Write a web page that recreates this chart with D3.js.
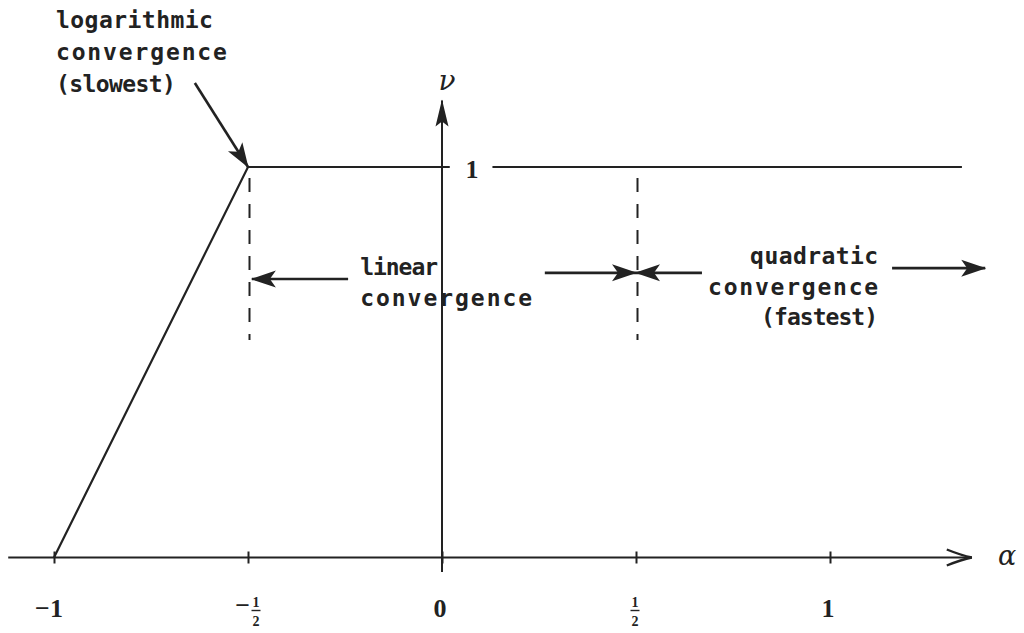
<!DOCTYPE html>
<html>
<head>
<meta charset="utf-8">
<script src="https://cdn.jsdelivr.net/npm/d3@7"></script>
<style>
  html, body { margin: 0; padding: 0; background: #fff; }
  svg { display: block; }
  .note { font-family: "DejaVu Sans Mono", monospace; font-weight: bold; font-size: 23px; fill: #222; }
  .num { font-family: "Liberation Serif", "DejaVu Serif", serif; font-weight: bold; fill: #222; }
</style>
</head>
<body>
<svg id="chart" width="1024" height="633"></svg>
<script>
// ---- data ----
const alphaTicks = [-1, -0.5, 0, 0.5, 1];
const tickLabels = ["−1", "−1/2", "0", "1/2", "1"];
const curveAlpha = [-1, -0.5, 1.34];
const curveNu = [0, 1, 1];
const dashedAlpha = [-0.5, 0.5];
const dashedNu = [0.557, 0.972];
const xAxisExtent = [-1.118, 1.368];
const yAxisExtent = [-0.037, 1.17];
const nuTickLabel = "1";
const axisLabels = ["α", "ν"];
const noteLog = ["logarithmic", "convergence", "(slowest)"];
const noteLinear = ["linear", "convergence"];
const noteQuad = ["quadratic", "convergence", "(fastest)"];
// annotation arrows: [fromAlpha, fromNu, toAlpha, toNu]
const arrows = [
  [-0.637, 1.215, -0.5, 1.0],
  [-0.242, 0.713, -0.49, 0.713],
  [0.265, 0.729, 0.5, 0.729],
  [0.67, 0.729, 0.5, 0.729],
  [1.16, 0.741, 1.40, 0.741]
];

// ---- scales ----
const x = d3.scaleLinear().domain([-1, 1]).range([54, 830]);
const y = d3.scaleLinear().domain([0, 1]).range([557.5, 167]);

const svg = d3.select("#chart");
const ink = "#222";

const defs = svg.append("defs");
defs.append("marker").attr("id", "head")
  .attr("viewBox", "-26 -10 28 20").attr("refX", 0).attr("refY", 0)
  .attr("markerWidth", 28).attr("markerHeight", 20)
  .attr("markerUnits", "userSpaceOnUse").attr("orient", "auto")
  .append("path").attr("d", "M1,0 L-24,-8.5 L-18,0 L-24,8.5 Z").attr("fill", ink);
defs.append("marker").attr("id", "yhead")
  .attr("viewBox", "-28 -8 30 16").attr("refX", 0).attr("refY", 0)
  .attr("markerWidth", 30).attr("markerHeight", 16)
  .attr("markerUnits", "userSpaceOnUse").attr("orient", "auto")
  .append("path").attr("d", "M1,0 L-26,-6.5 L-21,0 L-26,6.5 Z").attr("fill", ink);
defs.append("marker").attr("id", "open")
  .attr("viewBox", "-28 -10 30 20").attr("refX", 0).attr("refY", 0)
  .attr("markerWidth", 30).attr("markerHeight", 20)
  .attr("markerUnits", "userSpaceOnUse").attr("orient", "auto")
  .append("path").attr("d", "M-25,-8 Q-10,-2 0,0 Q-10,2 -25,8").attr("fill", "none")
  .attr("stroke", ink).attr("stroke-width", 2.4);

// ---- axes ----
svg.append("line")
  .attr("x1", x(xAxisExtent[0])).attr("x2", x(xAxisExtent[1]) - 1)
  .attr("y1", y(0)).attr("y2", y(0))
  .attr("stroke", ink).attr("stroke-width", 2.2).attr("marker-end", "url(#open)");

const gx = svg.append("g").attr("transform", `translate(0,${y(0)})`)
  .call(d3.axisBottom(x).tickValues(alphaTicks).tickSize(6).tickFormat(""));
gx.select(".domain").remove();
gx.selectAll(".tick line").attr("y1", -6).attr("y2", 6).attr("stroke", ink).attr("stroke-width", 2);

svg.append("line")
  .attr("x1", x(0)).attr("x2", x(0))
  .attr("y1", y(yAxisExtent[0])).attr("y2", y(yAxisExtent[1]))
  .attr("stroke", ink).attr("stroke-width", 2).attr("marker-end", "url(#yhead)");

// tick labels
alphaTicks.forEach((a, i) => {
  const lab = tickLabels[i];
  const cx = x(a);
  if (lab.includes("/")) {
    const neg = lab.startsWith("−");
    const [num, den] = lab.replace("−", "").split("/");
    const fx = neg ? cx + 8 : cx - 1;
    if (neg) {
      svg.append("text").attr("class", "num").attr("x", fx - 6).attr("y", 614)
        .attr("text-anchor", "end").attr("font-size", 26).text("−");
    }
    svg.append("text").attr("class", "num").attr("x", fx).attr("y", 607)
      .attr("text-anchor", "middle").attr("font-size", 14).text(num);
    svg.append("line").attr("x1", fx - 4.5).attr("x2", fx + 4.5).attr("y1", 610.5).attr("y2", 610.5)
      .attr("stroke", ink).attr("stroke-width", 1.4);
    svg.append("text").attr("class", "num").attr("x", fx).attr("y", 626)
      .attr("text-anchor", "middle").attr("font-size", 14).text(den);
  } else {
    svg.append("text").attr("class", "num").attr("x", cx - (lab.startsWith("−") ? 5 : 2)).attr("y", 617)
      .attr("text-anchor", "middle").attr("font-size", 26).text(lab);
  }
});

svg.append("text").attr("x", 1007).attr("y", 565).attr("text-anchor", "middle")
  .attr("font-family", "DejaVu Serif, serif").attr("font-style", "italic")
  .attr("font-size", 27).attr("fill", ink).text(axisLabels[0]);
svg.append("text").attr("x", x(0) + 5).attr("y", 90).attr("text-anchor", "middle")
  .attr("font-family", "DejaVu Serif, serif").attr("font-style", "italic")
  .attr("font-size", 28).attr("fill", ink).text(axisLabels[1]);

// ---- curve ----
const pts = curveAlpha.map((a, i) => [x(a), y(curveNu[i])]);
svg.append("path").attr("d", d3.line()(pts))
  .attr("fill", "none").attr("stroke", ink).attr("stroke-width", 2.2);

// gap for the "1" label
svg.append("rect").attr("x", x(0.02)).attr("y", y(1) - 6).attr("width", x(0.13) - x(0.02)).attr("height", 12)
  .attr("fill", "#fff");
svg.append("text").attr("class", "num").attr("x", x(0.077)).attr("y", y(1) + 11)
  .attr("text-anchor", "middle").attr("font-size", 26).text(nuTickLabel);

// ---- dashed verticals ----
dashedAlpha.forEach(a => {
  svg.append("line").attr("x1", x(a) + 1.5).attr("x2", x(a) + 1.5)
    .attr("y1", y(dashedNu[1])).attr("y2", y(dashedNu[0]))
    .attr("stroke", ink).attr("stroke-width", 2).attr("stroke-dasharray", "14 12");
});

// ---- annotation arrows ----
arrows.forEach(d => {
  svg.append("line")
    .attr("x1", x(d[0])).attr("y1", y(d[1])).attr("x2", x(d[2])).attr("y2", y(d[3]))
    .attr("stroke", ink).attr("stroke-width", 2.6).attr("marker-end", "url(#head)");
});

// ---- notes ----
function note(lines, widths, a, nu, anchor, step) {
  lines.forEach((t, i) => {
    svg.append("text").attr("class", "note")
      .attr("x", x(a)).attr("y", y(nu) + i * step)
      .attr("text-anchor", anchor)
      .attr("textLength", widths[i]).attr("lengthAdjust", "spacing")
      .text(t);
  });
}
note(noteLog, [157, 171, 120], -0.995, 1.356, "start", 32);
note(noteLinear, [78, 172], -0.211, 0.7234, "start", 31);
note(noteQuad, [128, 170, 117], 1.124, 0.7516, "end", 30.5);
</script>
</body>
</html>
